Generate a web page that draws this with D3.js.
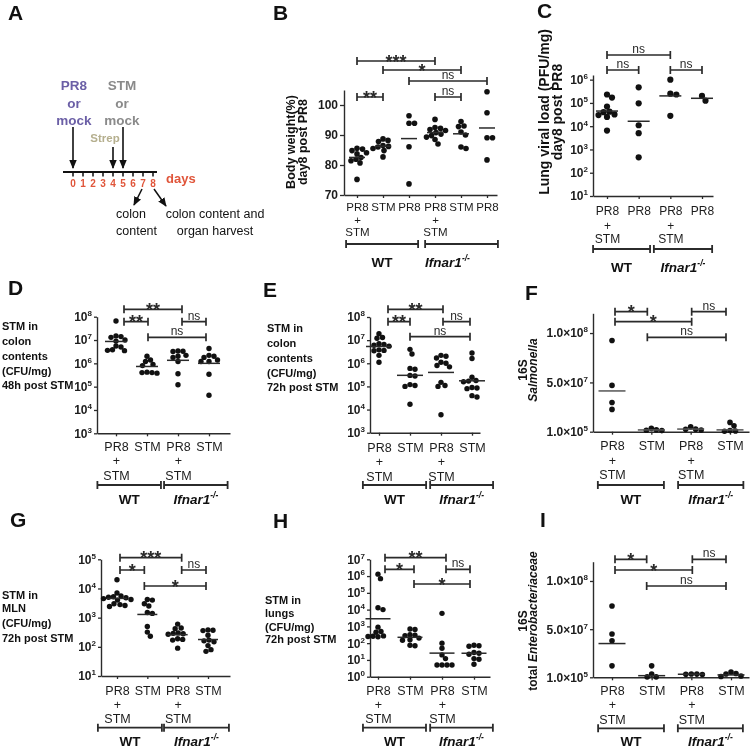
<!DOCTYPE html>
<html>
<head>
<meta charset="utf-8">
<title>Figure</title>
<script src="https://cdn.jsdelivr.net/npm/d3@7"></script>
<style>
  html,body{margin:0;padding:0;background:#fff;}
  svg{display:block;will-change:transform;}
</style>
</head>
<body>
<svg id="fig" width="750" height="747"></svg>
<script>
// ================= DATA =================
const catsB = ["PR8 + STM","STM","PR8","PR8 + STM","STM","PR8"];
const catsC = ["PR8 + STM","PR8","PR8 + STM","PR8"];
const catsMain = ["PR8 + STM","STM","PR8 + STM","STM"];
const genotypes = ["WT","Ifnar1"];
const genotypeSup = ["","-/-"];

const timelineDays = [0,1,2,3,4,5,6,7,8];
const treatmentDays = [0,4,5];
const treatmentLabels = [["PR8","or","mock"],["Strep"],["STM","or","mock"]];
const harvestDays = [7,8];
const harvestLabels = [["colon","content"],["colon content and","organ harvest"]];

const bodyWeightB = [
  [85.6,85.3,84.8,84.1,83.7,82.5,81.9,81.4,80.7,75.2],
  [88.7,88.2,87.8,86.5,86.2,86.0,85.5,84.8,82.7],
  [96.4,93.9,93.9,86.1,73.7],
  [95.2,92.5,92.2,91.8,91.5,90.8,90.3,89.8,89.3,88.5,87.0],
  [94.5,93.0,92.8,91.0,90.0,86.0,85.5],
  [104.4,97.4,89.1,89.1,81.7]
];
const viralLoadC = [
  [2.3e5,1.7e5,7e4,4.2e4,4e4,3.2e4,3e4,2.5e4,6.5e3],
  [4.7e5,9.6e4,1.1e4,5e3,4.6e2],
  [1e6,2.5e5,2.3e5,2.8e4],
  [2e5,1.25e5]
];
const colon48hD = [
  [6.5e7,1.5e7,1.4e7,1.3e7,1.0e7,9e6,5.5e6,5e6,3.8e6,3.6e6,3.5e6],
  [2e6,1.4e6,1.2e6,9e5,8e5,4.2e5,4e5,4e5,3.8e5],
  [3.4e6,3.3e6,3.2e6,2.2e6,2e6,1.8e6,1.2e6,3.6e5,1.2e5],
  [4.3e6,2.2e6,2e6,1.8e6,1.4e6,1.2e6,1.2e6,3.4e5,4.3e4]
];
const colon72hE = [
  [1.9e7,1.3e7,1.2e7,7e6,6.5e6,6e6,5.5e6,3.8e6,3.6e6,3.5e6,2.2e6,1.1e6],
  [4e6,2.5e6,6e5,5.5e5,3e5,2.8e5,1.2e5,1.1e5,1e5,1.7e4],
  [2.2e6,2e6,1.7e6,1.1e6,1e6,8e5,7e5,1.5e5,1.1e5,1e5,6e3],
  [2.8e6,1.6e6,2.5e5,1.8e5,1.7e5,1.6e5,9e4,8.5e4,8e4,4e4,3.5e4]
];
const salmonella16sF = [
  [9.25e7,4.7e7,2.97e7,2.27e7],
  [3.5e6,2e6,1.5e6,1.2e6],
  [5e6,2.7e6,2.5e6,1.7e6],
  [9.5e6,6e6,1.2e6,8e5,5e5]
];
const mln72hG = [
  [2e4,7e3,5.5e3,5.2e3,5e3,4.8e3,4.2e3,4e3,4.5e3,3e3,2.8e3,2.4e3,2.6e3],
  [4e3,4.2e3,3e3,2.5e3,1.5e3,1.4e3,5e2,3.2e2,2.3e2],
  [600,440,420,300,290,280,270,190,180,170,90],
  [380,370,360,250,170,160,150,110,80,70]
];
const lungs72hH = [
  [1.3e6,7e5,1.3e4,1e4,900,500,450,270,260,250,240],
  [700,650,320,300,280,200,160,150,75,70],
  [6e3,100,50,20,12,5,5,5,5],
  [75,70,65,28,25,22,12,11,5.5]
];
const entero16sI = [
  [7.4e7,4.5e7,3.8e7,1.2e7],
  [1.2e7,3.4e6,5e5,5e5],
  [3.5e6,3.4e6,3.2e6,3e6],
  [5.5e6,4e6,3.5e6,1.5e6,1e6]
];

const ticksB = [70,80,90,100];
const ticksC = [1e1,1e2,1e3,1e4,1e5,1e6];
const ticksDE = [1e3,1e4,1e5,1e6,1e7,1e8];
const ticksG = [1e1,1e2,1e3,1e4,1e5];
const ticksH = [1e0,1e1,1e2,1e3,1e4,1e5,1e6,1e7];
const ticks16S = [1e5,5e7,1e8];

const sigB = [[0,3,"***"],[1,4,"*"],[2,5,"ns"],[0,1,"**"],[3,4,"ns"]];
const sigC = [[0,2,"ns"],[0,1,"ns"],[2,3,"ns"]];
const sigD = [[0,2,"**"],[0,1,"**"],[2,3,"ns"],[1,3,"ns"]];
const sigE = [[0,2,"**"],[0,1,"**"],[2,3,"ns"],[1,3,"ns"]];
const sigF = [[0,1,"*"],[0,2,"*"],[2,3,"ns"],[1,3,"ns"]];
const sigG = [[0,2,"***"],[0,1,"*"],[2,3,"ns"],[1,3,"*"]];
const sigH = [[0,2,"**"],[0,1,"*"],[2,3,"ns"],[1,3,"*"]];
const sigI = [[0,1,"*"],[0,2,"*"],[2,3,"ns"],[1,3,"ns"]];

// ================= STYLE / LAYOUT =================
const svg = d3.select("#fig");
const FONT = '"Liberation Sans", Arial, Helvetica, sans-serif';
const NARROW = '"Liberation Sans Narrow", "Arial Narrow", "Liberation Sans", Arial, sans-serif';
const INK = "#1c1c1c";
const LINE = "#2b2b2b";

svg.append("rect").attr("width",750).attr("height",747).attr("fill","#fff");
const defs = svg.append("defs");
defs.append("marker").attr("id","ah").attr("viewBox","0 0 10 10").attr("refX",9).attr("refY",5)
  .attr("markerWidth",9).attr("markerHeight",9).attr("markerUnits","userSpaceOnUse").attr("orient","auto")
  .append("path").attr("d","M0,0.8 L10,5 L0,9.2 Z").attr("fill","#111");

const logFmt = d => ["10", String(Math.round(Math.log10(d)))];
const sciFmt = d => { const e = Math.floor(Math.log10(d)+1e-9); const m = d/Math.pow(10,e); return [m.toFixed(1)+"\u00d710", String(e)]; };
const linFmt = d => [String(d), null];

// panel letters
const letters = [["A",8,20],["B",273,20],["C",537,18],["D",8,295],["E",263,297],["F",525,300],["G",10,527],["H",273,528],["I",540,527]];
svg.append("g").selectAll("text").data(letters).join("text")
  .attr("x",d=>d[1]).attr("y",d=>d[2]).attr("font-family",FONT).attr("font-weight","bold")
  .attr("font-size",21).attr("fill","#111").text(d=>d[0]);

// ================= PANEL A =================
(function(){
  const g = svg.append("g").attr("font-family",FONT);
  const tl = d3.scaleLinear().domain([0,8]).range([73,153]);
  const axisY = 172;
  const colors = ["#6b5fa6","#b5af8e","#8a8a8a"];
  const labelDx = [1,-8,-1];
  const labelYs = [[85,103,120],[137]];
  const arrowTop = [127,147,127];
  g.append("line").attr("x1",63).attr("x2",157).attr("y1",axisY).attr("y2",axisY).attr("stroke","#111").attr("stroke-width",1.8);
  g.selectAll("line.tk").data(timelineDays).join("line").attr("class","tk")
    .attr("x1",d=>tl(d)).attr("x2",d=>tl(d)).attr("y1",axisY).attr("y2",axisY+4.5).attr("stroke","#111").attr("stroke-width",1.5);
  g.selectAll("text.day").data(timelineDays).join("text").attr("class","day")
    .attr("x",d=>tl(d)).attr("y",187).attr("text-anchor","middle").attr("font-size",10).attr("font-weight","bold")
    .attr("fill","#e0553a").text(d=>d);
  g.append("text").attr("x",166).attr("y",182.5).attr("font-size",13).attr("font-weight","bold").attr("fill","#e0553a").text("days");
  treatmentDays.forEach((d,i)=>{
    const ys = treatmentLabels[i].length===3 ? labelYs[0] : labelYs[1];
    treatmentLabels[i].forEach((s,k)=>{
      g.append("text").attr("x",tl(d)+labelDx[i]).attr("y",ys[k]+4.8).attr("text-anchor","middle")
        .attr("font-size", i===1 ? 11.5 : 13.5).attr("font-weight","bold").attr("fill",colors[i]).text(s);
    });
    g.append("line").attr("x1",tl(d)).attr("x2",tl(d)).attr("y1",arrowTop[i]).attr("y2",168)
      .attr("stroke","#111").attr("stroke-width",1.6).attr("marker-end","url(#ah)");
  });
  const hv = [{dx0:-1,dx1:-9,y1:205},{dx0:1,dx1:13,y1:206}];
  harvestDays.forEach((d,i)=>{
    g.append("line").attr("x1",tl(d)+hv[i].dx0).attr("y1",189).attr("x2",tl(d)+hv[i].dx1).attr("y2",hv[i].y1)
      .attr("stroke","#111").attr("stroke-width",1.5).attr("marker-end","url(#ah)");
  });
  harvestLabels[0].forEach((s,k)=> g.append("text").attr("x",116).attr("y",[213,230][k]+4.5).attr("font-size",12.5).attr("fill","#111").text(s));
  harvestLabels[1].forEach((s,k)=> g.append("text").attr("x",215).attr("y",[213,230][k]+4.5).attr("text-anchor","middle").attr("font-size",12.5).attr("fill","#111").text(s));
})();

// ================= GENERIC SCATTER PANEL =================
function swarm(ys, r){
  const idx = ys.map((v,i)=>i).sort((a,b)=>ys[a]-ys[b]);
  const placed = []; const off = new Array(ys.length).fill(0);
  const minD = 2*r*0.92;
  for (const i of idx){
    let best = 0;
    for (let k=0;k<400;k++){
      const cand = k===0 ? 0 : (k%2 ? 1 : -1)*Math.ceil(k/2)*0.5;
      if (placed.every(p=>Math.hypot(p.x-cand,p.y-ys[i])>=minD)){ best=cand; break; }
    }
    off[i]=best; placed.push({x:best,y:ys[i]});
  }
  return off;
}
function styleAxis(ag){
  ag.attr("font-family",null).attr("font-size",null).attr("fill",null);
  ag.select(".domain").attr("stroke",LINE).attr("stroke-width",1.4);
  ag.selectAll(".tick line").attr("stroke",LINE).attr("stroke-width",1.3);
  ag.selectAll(".tick text").attr("fill",INK).attr("font-family",FONT);
}
function drawPanel(p){
  const g = svg.append("g").attr("font-family",FONT).attr("fill",INK);
  const n = p.cats.length;
  const step = (p.catX[1]-p.catX[0])/(n-1);
  const x = d3.scaleLinear()
    .domain([(p.axisX[0]-p.catX[0])/step, (n-1)+(p.axisX[1]-p.catX[1])/step])
    .range(p.axisX);
  const y = (p.log ? d3.scaleLog() : d3.scaleLinear()).domain(p.yDomain).range(p.yRange);

  const yg = g.append("g").attr("transform",`translate(${p.axisX[0]},0)`)
    .call(d3.axisLeft(y).tickValues(p.yTicks).tickSize(p.tick||3).tickPadding(p.pad||2).tickSizeOuter(0));
  styleAxis(yg);
  yg.selectAll(".tick text").each(function(d){
    const [base,sup] = p.fmt(d);
    const t = d3.select(this).text(null).attr("font-size",12).attr("font-weight","bold");
    t.append("tspan").text(base);
    if (sup!=null) t.append("tspan").attr("dy",-5).attr("font-size",8).text(sup);
  });

  const xg = g.append("g").attr("transform",`translate(0,${p.yRange[0]})`)
    .call(d3.axisBottom(x).tickValues(d3.range(n)).tickSize(3).tickSizeOuter(0).tickFormat(""));
  styleAxis(xg);
  xg.selectAll(".tick text").each(function(d){
    const t = d3.select(this).attr("y",null).attr("dy",null).attr("font-size",p.catFont).text(null);
    p.cats[d].split(" ").forEach((w,k)=>t.append("tspan").attr("x",0)
      .attr("y",p.catLineY[k]-p.yRange[0]+p.catFont*0.36).text(w));
  });

  p.values.forEach((vals,i)=>{
    const ys = vals.map(v=>y(v));
    const offs = swarm(ys,p.r);
    g.append("g").selectAll("circle").data(vals).join("circle")
      .attr("cx",(v,k)=>x(i)+offs[k]).attr("cy",v=>y(v)).attr("r",p.r).attr("fill","#111");
    const c = p.center==="geo" ? Math.pow(10,d3.mean(vals,v=>Math.log10(v))) : d3.mean(vals);
    g.append("line").attr("x1",x(i)-p.lineW/2).attr("x2",x(i)+p.lineW/2).attr("y1",y(c)).attr("y2",y(c))
      .attr("stroke",p.lineColor||"#2a2a2a").attr("stroke-width",1.5);
  });

  p.sig.forEach(([a,b,lab],k)=>{
    const xa = x(a)+p.bOff[a], xb = x(b)+p.bOff[b], yy = p.sigY[k];
    g.append("path").attr("d",`M${xa},${yy-4}V${yy+4}M${xa},${yy}H${xb}M${xb},${yy-4}V${yy+4}`)
      .attr("stroke",LINE).attr("stroke-width",1.7).attr("fill","none");
    const ns = lab==="ns";
    g.append("text").attr("x",(xa+xb)/2).attr("y",ns?yy-2:yy+6.5).attr("text-anchor","middle")
      .attr("font-family",ns?NARROW:FONT).attr("font-size",ns?12:18).attr("font-weight",ns?"normal":"bold")
      .attr("fill","#2a2a2a").text(lab);
  });

  p.groups.forEach(([a,b],k)=>{
    const xa=x(a), xb=x(b), yy=p.groupY;
    g.append("path").attr("d",`M${xa},${yy-4}V${yy+4}M${xa},${yy}H${xb}M${xb},${yy-4}V${yy+4}`)
      .attr("stroke",LINE).attr("stroke-width",1.8).attr("fill","none");
    const t = g.append("text").attr("x",(xa+xb)/2+(p.groupDx?p.groupDx[k]:0)).attr("y",p.groupLabelY+5)
      .attr("text-anchor","middle").attr("font-weight","bold").attr("font-size",13.5).attr("fill","#111");
    if (genotypeSup[k]){
      t.append("tspan").attr("font-style","italic").text(genotypes[k]);
      t.append("tspan").attr("font-style","italic").attr("font-size",8.5).attr("dy",-6).text(genotypeSup[k]);
    } else t.text(genotypes[k]);
  });

  const ti = p.title;
  if (ti.type==="rot"){
    ti.lines.forEach((parts,k)=>{
      const t = g.append("text").attr("transform",`translate(${ti.x[k]},${ti.y}) rotate(-90)`)
        .attr("text-anchor","middle").attr("dy","0.35em").attr("font-size",ti.size).attr("font-weight","bold").attr("fill","#111");
      parts.forEach(pt=>t.append("tspan").attr("font-style",pt.i?"italic":null).text(pt.t));
    });
  } else {
    ti.lines.forEach((s,k)=>g.append("text").attr("x",ti.x).attr("y",ti.y[k]).attr("dy","0.36em")
      .attr("font-size",ti.size).attr("font-weight","bold").attr("fill","#111").text(s));
  }
}

const panels = [
  {cats:catsB, values:bodyWeightB, log:false, center:"mean", yDomain:[70,105], yRange:[195,90], yTicks:ticksB, fmt:linFmt,
   tick:4, pad:2, axisX:[344,497], catX:[357,487], r:2.8, lineW:16, catFont:11.5, catLineY:[207,220,232],
   sig:sigB, sigY:[61,70,81,97,97], bOff:[0,0,0,0,0,0], groups:[[-0.42,2.35],[2.62,5.42]], groupY:244, groupLabelY:262, groupDx:[0,-14],
   title:{type:"rot", x:[291,303], y:142, size:12.5, lines:[[{t:"Body weight(%)"}],[{t:"day8 post PR8"}]]}},
  {cats:catsC, values:viralLoadC, log:true, center:"geo", yDomain:[10,Math.pow(10,6.2)], yRange:[196,75], yTicks:ticksC, fmt:logFmt,
   axisX:[593,713], catX:[607,702], r:3.1, lineW:22, catFont:12, catLineY:[211,225.5,239],
   sig:sigC, sigY:[55,70,70], bOff:[0,0,0,0], groups:[[-0.44,1.36],[1.48,3.32]], groupY:249, groupLabelY:267,
   title:{type:"rot", x:[544,557], y:112, size:14, lines:[[{t:"Lung viral load (PFU/mg)"}],[{t:"day8 post PR8"}]]}},
  {cats:catsMain, values:colon48hD, log:true, center:"geo", yDomain:[1e3,1e8], yRange:[433.3,316.7], yTicks:ticksDE, fmt:logFmt,
   axisX:[97,230], catX:[116,209], r:2.7, lineW:22, catFont:12.5, catLineY:[446.7,461,476],
   sig:sigD, sigY:[309.3,321.7,321.7,337.3], bOff:[8,1,4,-3], groups:[[-0.6,1.45],[1.55,3.6]], groupY:485, groupLabelY:499,
   title:{type:"left", x:2, y:[326,340.7,356,370.7,385], size:11, lines:["STM in","colon","contents","(CFU/mg)","48h post STM"]}},
  {cats:catsMain, values:colon72hE, log:true, center:"geo", yDomain:[1e3,1e8], yRange:[432.7,317], yTicks:ticksDE, fmt:logFmt,
   axisX:[370,480], catX:[379,472], r:2.7, lineW:26, catFont:12.5, catLineY:[448,462,476.7],
   sig:sigE, sigY:[309.3,321.7,321.7,336.7], bOff:[9,0,2,-2], groups:[[-0.52,1.52],[1.65,3.68]], groupY:485, groupLabelY:499,
   title:{type:"left", x:267, y:[328,343,358,373,387], size:11, lines:["STM in","colon","contents","(CFU/mg)","72h post STM"]}},
  {cats:catsMain, values:salmonella16sF, log:false, center:"geo", yDomain:[1e5,1.2e8], yRange:[431.7,313.3], yTicks:ticks16S, fmt:sciFmt,
   axisX:[593,749], catX:[612,730], r:2.8, lineW:27, lineColor:"#555", catFont:12.5, catLineY:[446,460.7,475],
   sig:sigF, sigY:[311.7,321.7,311.7,337.3], bOff:[3,-4,1,-4], groups:[[-0.36,1.32],[1.68,3.34]], groupY:485, groupLabelY:499,
   title:{type:"rot", x:[523,533], y:370, size:12, lines:[[{t:"16S"}],[{t:"Salmonella",i:true}]]}},
  {cats:catsMain, values:mln72hG, log:true, center:"geo", yDomain:[10,1e5], yRange:[676,559.3], yTicks:ticksG, fmt:logFmt,
   axisX:[101,230], catX:[117,208], r:2.7, lineW:20, catFont:12.5, catLineY:[690,704.3,718.3],
   sig:sigG, sigY:[557.7,570,570,586], bOff:[3,-3,4,-2], groups:[[-0.63,1.48],[1.55,3.69]], groupY:727.7, groupLabelY:740.5,
   title:{type:"left", x:2, y:[595,608.3,622.7,638.3], size:11, lines:["STM in","MLN","(CFU/mg)","72h post STM"]}},
  {cats:catsMain, values:lungs72hH, log:true, center:"geo", yDomain:[1,1e7], yRange:[676.7,559.3], yTicks:ticksH, fmt:logFmt,
   axisX:[370,490], catX:[378,474], r:2.7, lineW:25, catFont:12.5, catLineY:[690.7,704.3,718.3],
   sig:sigH, sigY:[557.7,569.3,569.3,584], bOff:[7,4,4,-4], groups:[[-0.47,1.5],[1.63,3.59]], groupY:727.7, groupLabelY:740.5,
   title:{type:"left", x:265, y:[600,613.3,626.7,639.3], size:11, lines:["STM in","lungs","(CFU/mg)","72h post STM"]}},
  {cats:catsMain, values:entero16sI, log:false, center:"geo", yDomain:[1e5,1.2e8], yRange:[677.3,561.7], yTicks:ticks16S, fmt:sciFmt,
   axisX:[593,749], catX:[612,731], r:2.8, lineW:27, catFont:12.5, catLineY:[690.7,705,719.5],
   sig:sigI, sigY:[559.3,570,559.3,586], bOff:[3,-5,1,-5], groups:[[-0.35,1.31],[1.66,3.3]], groupY:728.3, groupLabelY:740.5,
   title:{type:"rot", x:[523,533], y:621, size:12, lines:[[{t:"16S"}],[{t:"total "},{t:"Enterobacteriaceae",i:true}]]}}
];
panels.forEach(drawPanel);
</script>
</body>
</html>
